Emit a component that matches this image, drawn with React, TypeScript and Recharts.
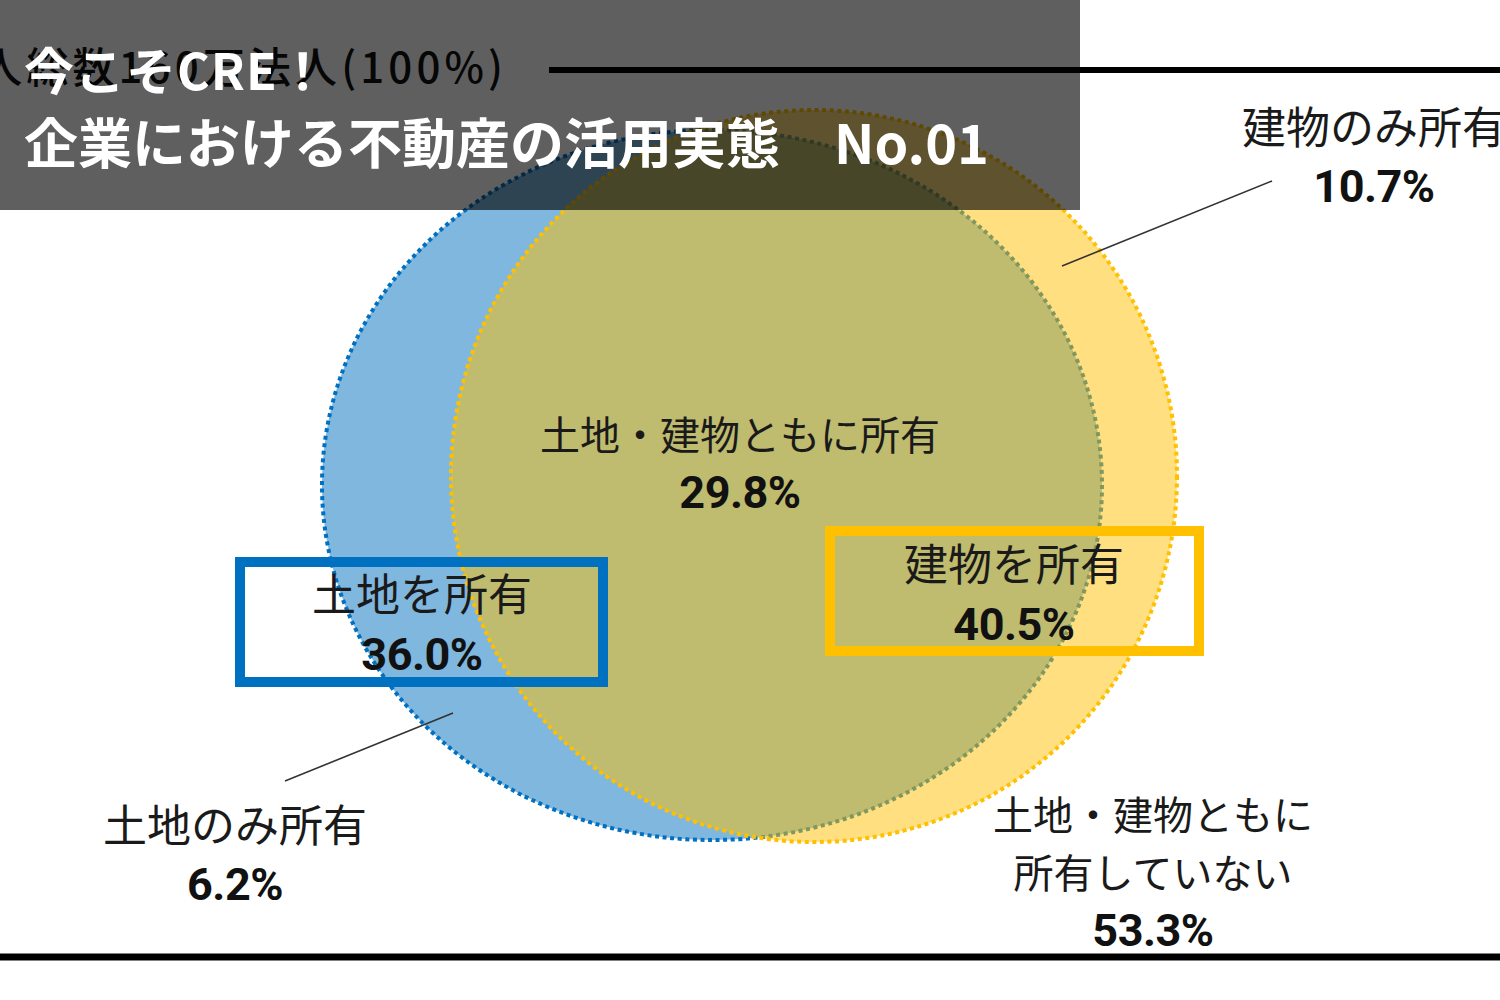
import React from "react";
import {
  ScatterChart,
  Scatter,
  XAxis,
  YAxis,
  ReferenceArea,
  ReferenceLine,
} from "recharts";

// survey shares (%)
const sets = ["土地を所有", "建物を所有"];
const setShares = [36.0, 40.5];
const regions = [
  "土地・建物ともに所有",
  "土地のみ所有",
  "建物のみ所有",
  "土地・建物ともに所有していない",
];
const regionShares = [29.8, 6.2, 10.7, 53.3];
const totalLabel = "法人総数160万法人(100%)";
const titleLines = ["今こそCRE！", "企業における不動産の活用実態　No.01"];

const BLUE = "#0070C0";
const YELLOW = "#FFC000";
const W = 1500;
const H = 1000;
const JP = "'Noto Sans CJK JP', 'Noto Sans', sans-serif";
const NUM = "Roboto, 'Noto Sans', sans-serif";

// layout in chart units (domain = 0..1500 x 0..1000)
const circleLayout = [
  { cx: 712, cy: 485, rx: 390, ry: 355, color: BLUE },
  { cx: 814, cy: 476, rx: 363, ry: 366, color: YELLOW },
];
const boxLayout = [
  { x1: 240, x2: 603, y1: 562, y2: 682, color: BLUE },
  { x1: 830, x2: 1199, y1: 531, y2: 651, color: YELLOW },
];
const leaderLayout = [
  [{ x: 1062, y: 266 }, { x: 1272, y: 181 }],
  [{ x: 453, y: 713 }, { x: 285, y: 781 }],
];

const fmt = (v: number) => `${v.toFixed(1)}%`;

const labels = [
  { x: 740, y: 450, size: 40, gap: 58, names: [regions[0]], value: regionShares[0] },
  { x: 422, y: 611, size: 44, gap: 59, names: [sets[0]], value: setShares[0] },
  { x: 1014, y: 581, size: 44, gap: 59, names: [sets[1]], value: setShares[1] },
  { x: 1374, y: 144, size: 44, gap: 58, names: [regions[2]], value: regionShares[2] },
  { x: 235, y: 842, size: 44, gap: 58, names: [regions[1]], value: regionShares[1] },
  {
    x: 1153,
    y: 830,
    size: 40,
    gap: 58,
    names: ["土地・建物ともに", "所有していない"],
    value: regionShares[3],
  },
];

const LabelShape = (props: any) => {
  const { cx, cy, payload } = props;
  if (cx == null || cy == null) return null;
  return (
    <g>
      {payload.names.map((n: string, i: number) => (
        <text
          key={i}
          x={cx}
          y={cy + i * payload.gap}
          textAnchor="middle"
          fontFamily={JP}
          fontSize={payload.size}
          fill="#1a1a1a"
        >
          {n}
        </text>
      ))}
      <text
        x={cx}
        y={cy + payload.names.length * payload.gap}
        textAnchor="middle"
        fontFamily={NUM}
        fontWeight={700}
        fontSize={45}
        letterSpacing={-0.5}
        fill="#111"
      >
        {fmt(payload.value)}
      </text>
    </g>
  );
};

const TotalShape = (props: any) => {
  const { cx, cy, payload } = props;
  if (cx == null || cy == null) return null;
  return (
    <text
      x={cx}
      y={cy}
      textLength={569}
      lengthAdjust="spacing"
      fontFamily={JP}
      fontWeight={500}
      fontSize={42}
      fill="#111"
    >
      {payload.text}
    </text>
  );
};

const ellipseShape = (color: string) => (props: any) => {
  const { x, y, width, height } = props;
  return (
    <ellipse
      cx={x + width / 2}
      cy={y + height / 2}
      rx={Math.abs(width) / 2}
      ry={Math.abs(height) / 2}
      fill={color}
      fillOpacity={0.5}
      stroke={color}
      strokeWidth={4}
      strokeDasharray="4 3.6"
    />
  );
};

export default function App() {
  return (
    <div
      style={{
        position: "absolute",
        left: 0,
        top: 0,
        width: W,
        height: H,
        background: "#fff",
        overflow: "hidden",
      }}
    >
      <ScatterChart
        width={W}
        height={H}
        margin={{ top: 0, right: 0, bottom: 0, left: 0 }}
      >
        <XAxis type="number" dataKey="x" domain={[0, W]} allowDataOverflow hide />
        <YAxis
          type="number"
          dataKey="y"
          domain={[0, H]}
          allowDataOverflow
          reversed
          hide
        />

        {circleLayout.map((c, i) => (
          <ReferenceArea
            key={`c${i}`}
            x1={c.cx - c.rx}
            x2={c.cx + c.rx}
            y1={c.cy - c.ry}
            y2={c.cy + c.ry}
            ifOverflow="visible"
            shape={ellipseShape(c.color)}
          />
        ))}

        {boxLayout.map((b, i) => (
          <ReferenceArea
            key={`b${i}`}
            x1={b.x1}
            x2={b.x2}
            y1={b.y1}
            y2={b.y2}
            ifOverflow="visible"
            fill="none"
            fillOpacity={0}
            stroke={b.color}
            strokeWidth={10}
          />
        ))}

        {leaderLayout.map((seg, i) => (
          <ReferenceLine
            key={`l${i}`}
            segment={seg}
            ifOverflow="visible"
            stroke="#333"
            strokeWidth={1.6}
          />
        ))}

        <ReferenceLine
          segment={[{ x: 549, y: 70 }, { x: W, y: 70 }]}
          ifOverflow="visible"
          stroke="#000"
          strokeWidth={6}
        />
        <ReferenceLine
          segment={[{ x: 0, y: 957 }, { x: W, y: 957 }]}
          ifOverflow="visible"
          stroke="#000"
          strokeWidth={7}
        />

        <Scatter
          data={[{ x: -66, y: 83, text: totalLabel }]}
          shape={TotalShape}
          isAnimationActive={false}
        />
        <Scatter data={labels} shape={LabelShape} isAnimationActive={false} />
      </ScatterChart>

      <svg
        width={1080}
        height={210}
        style={{ position: "absolute", left: 0, top: 0 }}
      >
        <rect x={0} y={0} width={1080} height={210} fill="#000" fillOpacity={0.627} />
        <text
          x={24}
          y={90}
          fontFamily={JP}
          fontWeight={700}
          fontSize={50}
          letterSpacing={1}
          fill="#fff"
        >
          {titleLines[0]}
        </text>
        <text
          x={24}
          y={164}
          fontFamily={JP}
          fontWeight={700}
          fontSize={54}
          letterSpacing={0}
          fill="#fff"
        >
          {titleLines[1]}
        </text>
      </svg>
    </div>
  );
}
